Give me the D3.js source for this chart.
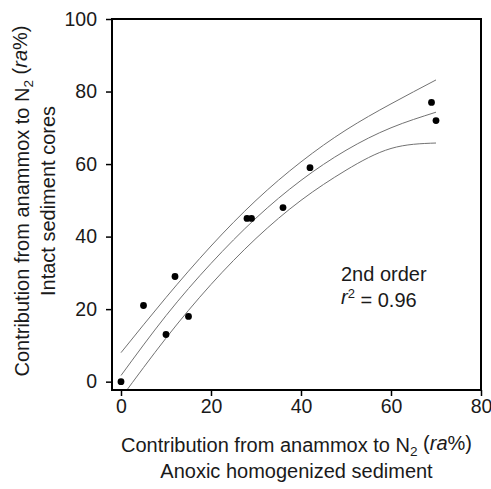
<!DOCTYPE html>
<html>
<head>
<meta charset="utf-8">
<script src="https://cdnjs.cloudflare.com/ajax/libs/d3/7.8.5/d3.min.js"></script>
<style>
    body { margin: 0; background: #fff; }
    text { font-family: "Liberation Sans", Arial, sans-serif; fill: #1a1a1a; }
</style>
</head>
<body>
<div id="graph"></div>
<script>
// measured ra% : homogenized slurries (x) vs intact cores (y)
let homogenized = [0, 5, 10, 12, 15, 28, 29, 36, 42, 69, 70];
let intactCores = [0, 21, 13, 29, 18, 45, 45, 48, 59, 77, 72];

// 2nd order fit and its band at these x values
let fitX     = [0, 10, 20, 30, 40, 50, 60, 70];
let fitMid   = [1.7, 18.2, 32.6, 45.1, 55.5, 63.8, 70.0, 74.3];
let fitUpper = [8.0, 23.2, 37.4, 50.0, 60.6, 69.4, 76.6, 83.2];
let fitLower = [-4.5, 12.0, 26.8, 39.5, 50.0, 58.3, 64.3, 65.8];

let xTicks = [0, 20, 40, 60, 80];
let yTicks = [0, 20, 40, 60, 80, 100];

(function() {
    let width = 491, height = 489;
    let left = 112, right = 481, top = 19, bottom = 390;

    let svg = d3.select("#graph")
        .append("svg")
        .attr("width", width)
        .attr("height", height);

    let x = d3.scaleLinear().domain([-2, 80]).range([left, right]);
    let y = d3.scaleLinear().domain([-2.3, 100]).range([bottom, top]);

    svg.append("clipPath")
        .attr("id", "plot-clip")
        .append("rect")
        .attr("x", left)
        .attr("y", top)
        .attr("width", right - left)
        .attr("height", bottom - top);

    // fit line + band
    let line = d3.line()
        .x(function(d) { return x(d[0]); })
        .y(function(d) { return y(d[1]); })
        .curve(d3.curveNatural);

    [fitUpper, fitMid, fitLower].forEach(function(vals) {
        svg.append("path")
            .datum(fitX.map(function(v, i) { return [v, vals[i]]; }))
            .attr("clip-path", "url(#plot-clip)")
            .attr("fill", "none")
            .attr("stroke", "#727272")
            .attr("stroke-width", 1)
            .attr("d", line);
    });

    // points
    svg.append("g")
        .selectAll("circle")
        .data(homogenized.map(function(v, i) { return [v, intactCores[i]]; }))
        .join("circle")
        .attr("cx", function(d) { return x(d[0]); })
        .attr("cy", function(d) { return y(d[1]); })
        .attr("r", 3.4)
        .attr("fill", "#000");

    // axes
    let xAxis = svg.append("g")
        .attr("transform", "translate(0," + bottom + ")")
        .call(d3.axisBottom(x).tickValues(xTicks).tickSize(6).tickPadding(3).tickSizeOuter(0));
    let yAxis = svg.append("g")
        .attr("transform", "translate(" + left + ",0)")
        .call(d3.axisLeft(y).tickValues(yTicks).tickSize(6).tickPadding(9).tickSizeOuter(0));

    [xAxis, yAxis].forEach(function(a) {
        a.select(".domain").remove();
        a.selectAll(".tick line").attr("stroke", "#000").attr("stroke-width", 1.5);
        a.selectAll(".tick text")
            .style("font-size", "19.5px")
            .style("font-family", "'Liberation Sans', Arial, sans-serif")
            .attr("fill", "#1a1a1a");
    });

    // frame
    svg.append("rect")
        .attr("x", left)
        .attr("y", top)
        .attr("width", right - left)
        .attr("height", bottom - top)
        .attr("fill", "none")
        .attr("stroke", "#000")
        .attr("stroke-width", 2);

    // axis titles
    function anammoxTitle(sel) {
        sel.append("tspan").text("Contribution from anammox to N");
        sel.append("tspan").attr("dy", "0.3em").style("font-size", "0.68em").text("2");
        sel.append("tspan").attr("dy", "-0.3em").text(" (");
        sel.append("tspan").style("font-style", "italic").text("ra");
        sel.append("tspan").text("%)");
    }

    let middleX = (left + right) / 2;
    svg.append("text")
        .attr("x", middleX)
        .attr("y", 452)
        .style("text-anchor", "middle")
        .style("font-size", "20px")
        .call(anammoxTitle);
    svg.append("text")
        .attr("x", middleX)
        .attr("y", 478)
        .style("text-anchor", "middle")
        .style("font-size", "20px")
        .text("Anoxic homogenized sediment");

    let center = 201;
    svg.append("text")
        .attr("transform", "translate(28.5," + center + ") rotate(-90)")
        .style("text-anchor", "middle")
        .style("font-size", "20px")
        .call(anammoxTitle);
    svg.append("text")
        .attr("transform", "translate(55," + center + ") rotate(-90)")
        .style("text-anchor", "middle")
        .style("font-size", "20px")
        .text("Intact sediment cores");

    // fit annotation
    svg.append("text")
        .attr("x", 341)
        .attr("y", 281)
        .style("font-size", "20px")
        .text("2nd order");
    let r2 = svg.append("text")
        .attr("x", 341)
        .attr("y", 304)
        .style("font-size", "20px");
    r2.append("tspan").style("font-style", "italic").text("r");
    r2.append("tspan").attr("dy", "-0.45em").style("font-size", "0.65em").text("2");
    r2.append("tspan").attr("dy", "0.45em").text(" = 0.96");
})();
</script>
</body>
</html>
